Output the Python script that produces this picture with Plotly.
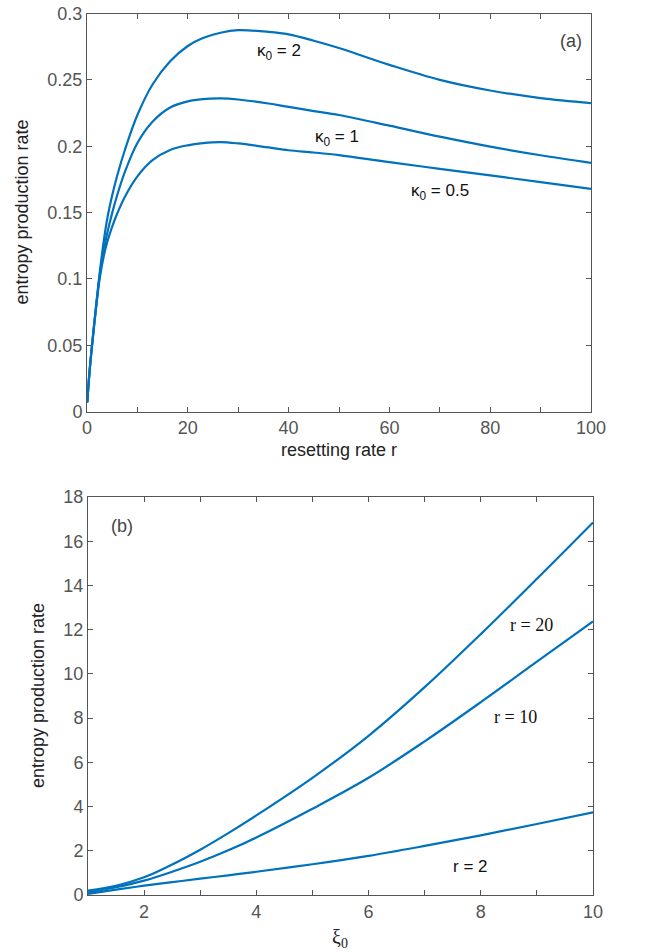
import plotly.graph_objects as go

# ---------------- data: panel (a) ----------------
r_vals = [0.05, 0.5, 1, 1.8, 2.5, 3.3, 4, 5, 6, 7.5, 10, 13, 16.5, 20, 23, 26.5, 30, 36, 40, 45, 50,
          60, 70, 80, 90, 100]
ep_k2 = [0.007, 0.03, 0.05, 0.08, 0.104, 0.128, 0.145, 0.163, 0.178, 0.197, 0.2235, 0.2465, 0.264, 0.2755,
         0.2815, 0.2855, 0.2874, 0.2862, 0.2843, 0.2795, 0.274, 0.2613, 0.25, 0.242, 0.2363, 0.2325]
ep_k1 = [0.007, 0.03, 0.05, 0.079, 0.102, 0.121, 0.1343, 0.1498, 0.1633, 0.1805, 0.2025, 0.2185, 0.2292, 0.2338,
         0.2355, 0.236, 0.2352, 0.2322, 0.2296, 0.2265, 0.2235, 0.2155, 0.2072, 0.1997, 0.1932, 0.1875]
ep_k05 = [0.007, 0.03, 0.05, 0.078, 0.100, 0.1168, 0.1277, 0.1395, 0.1493, 0.1618, 0.1773, 0.1895, 0.1972, 0.2007,
          0.2023, 0.2031, 0.2021, 0.1991, 0.197, 0.1953, 0.1933, 0.188, 0.183, 0.178, 0.173, 0.1678]

# ---------------- data: panel (b) ----------------
xi_vals = [1, 1.5, 2, 2.5, 3, 3.5, 4, 5, 6, 7, 8, 9, 10]
ep_r20 = [0.2, 0.42, 0.8, 1.38, 2.05, 2.8, 3.6, 5.3, 7.2, 9.4, 11.8, 14.3, 16.85]
ep_r10 = [0.12, 0.35, 0.65, 1.05, 1.5, 2.02, 2.6, 3.9, 5.3, 6.95, 8.72, 10.55, 12.37]
ep_r2 = [0.05, 0.24, 0.42, 0.58, 0.74, 0.89, 1.05, 1.39, 1.77, 2.22, 2.7, 3.21, 3.74]

BLUE = "#0072BD"
AX = "#555555"
W, H = 646, 952

fig = go.Figure()
for y in (ep_k2, ep_k1, ep_k05):
    fig.add_trace(go.Scatter(x=r_vals, y=y, mode="lines",
                             line=dict(color=BLUE, width=2.2, shape="spline", smoothing=1.0),
                             xaxis="x", yaxis="y", showlegend=False))
for y in (ep_r20, ep_r10, ep_r2):
    fig.add_trace(go.Scatter(x=xi_vals, y=y, mode="lines",
                             line=dict(color=BLUE, width=2.2, shape="spline", smoothing=1.0),
                             xaxis="x2", yaxis="y2", showlegend=False))

tickfont = dict(family="Liberation Sans, Arial, sans-serif", size=18, color=AX)
common = dict(showline=True, linecolor=AX, linewidth=1, mirror="ticks", ticks="inside", ticklen=5,
              tickcolor=AX, tickfont=tickfont, showgrid=False, zeroline=False, automargin=False)

fig.update_layout(
    width=W, height=H, margin=dict(l=0, r=0, t=0, b=0),
    paper_bgcolor="white", plot_bgcolor="white",
    xaxis=dict(common, domain=[87 / W, 591 / W], range=[0, 100], dtick=20, tick0=0,
               minor=dict(ticks="inside", ticklen=5, tickcolor=AX, dtick=10, showgrid=False), anchor="y"),
    yaxis=dict(common, domain=[1 - 411.7 / H, 1 - 13.5 / H], range=[0, 0.3], dtick=0.05, tick0=0, anchor="x"),
    xaxis2=dict(common, domain=[88 / W, 593 / W], range=[1, 10], dtick=2, tick0=0,
                minor=dict(ticks="inside", ticklen=5, tickcolor=AX, dtick=1, showgrid=False), anchor="y2"),
    yaxis2=dict(common, domain=[1 - 895 / H, 1 - 497 / H], range=[0, 18], dtick=2, tick0=0, anchor="x2"),
)

titlefont = dict(family="Liberation Sans, Arial, sans-serif", size=18, color="#222222")
labfont = dict(family="Liberation Sans, Arial, sans-serif", size=17, color="#111111")
serif = dict(family="Liberation Serif, Times New Roman, serif", size=18, color="#111111")

ann = [
    dict(text="entropy production rate", x=22 / W, y=1 - 212.6 / H, textangle=-90, font=titlefont),
    dict(text="resetting rate r", x=339 / W, y=1 - 450 / H, font=titlefont),
    dict(text="entropy production rate", x=38 / W, y=1 - 696 / H, textangle=-90, font=titlefont),
    dict(text="ξ<sub>0</sub>", x=340 / W, y=1 - 938 / H,
         font=dict(family="Liberation Serif, serif", size=20, color="#222222")),
]
for a in ann:
    a.update(xref="paper", yref="paper", showarrow=False, xanchor="center", yanchor="middle")

data_ann = [
    dict(text="κ<sub>0</sub> = 2", x=38, y=0.271, xref="x", yref="y", font=labfont),
    dict(text="κ<sub>0</sub> = 1", x=49.6, y=0.206, xref="x", yref="y", font=labfont),
    dict(text="κ<sub>0</sub> = 0.5", x=70, y=0.1655, xref="x", yref="y", font=labfont),
    dict(text="(a)", x=96, y=0.279, xref="x", yref="y",
         font=dict(family="Liberation Sans, Arial", size=18, color="#444444")),
    dict(text="r = 20", x=8.91, y=12.2, xref="x2", yref="y2", font=serif),
    dict(text="r = 10", x=8.61, y=8.05, xref="x2", yref="y2", font=serif),
    dict(text="r = 2", x=7.81, y=1.31, xref="x2", yref="y2",
         font=dict(family="Liberation Sans, Arial", size=17, color="#111111")),
    dict(text="(b)", x=1.6, y=16.7, xref="x2", yref="y2",
         font=dict(family="Liberation Sans, Arial", size=18, color="#444444")),
]
for a in data_ann:
    a.update(showarrow=False, xanchor="center", yanchor="middle")

fig.update_layout(annotations=ann + data_ann)
fig.write_html("out.html")
